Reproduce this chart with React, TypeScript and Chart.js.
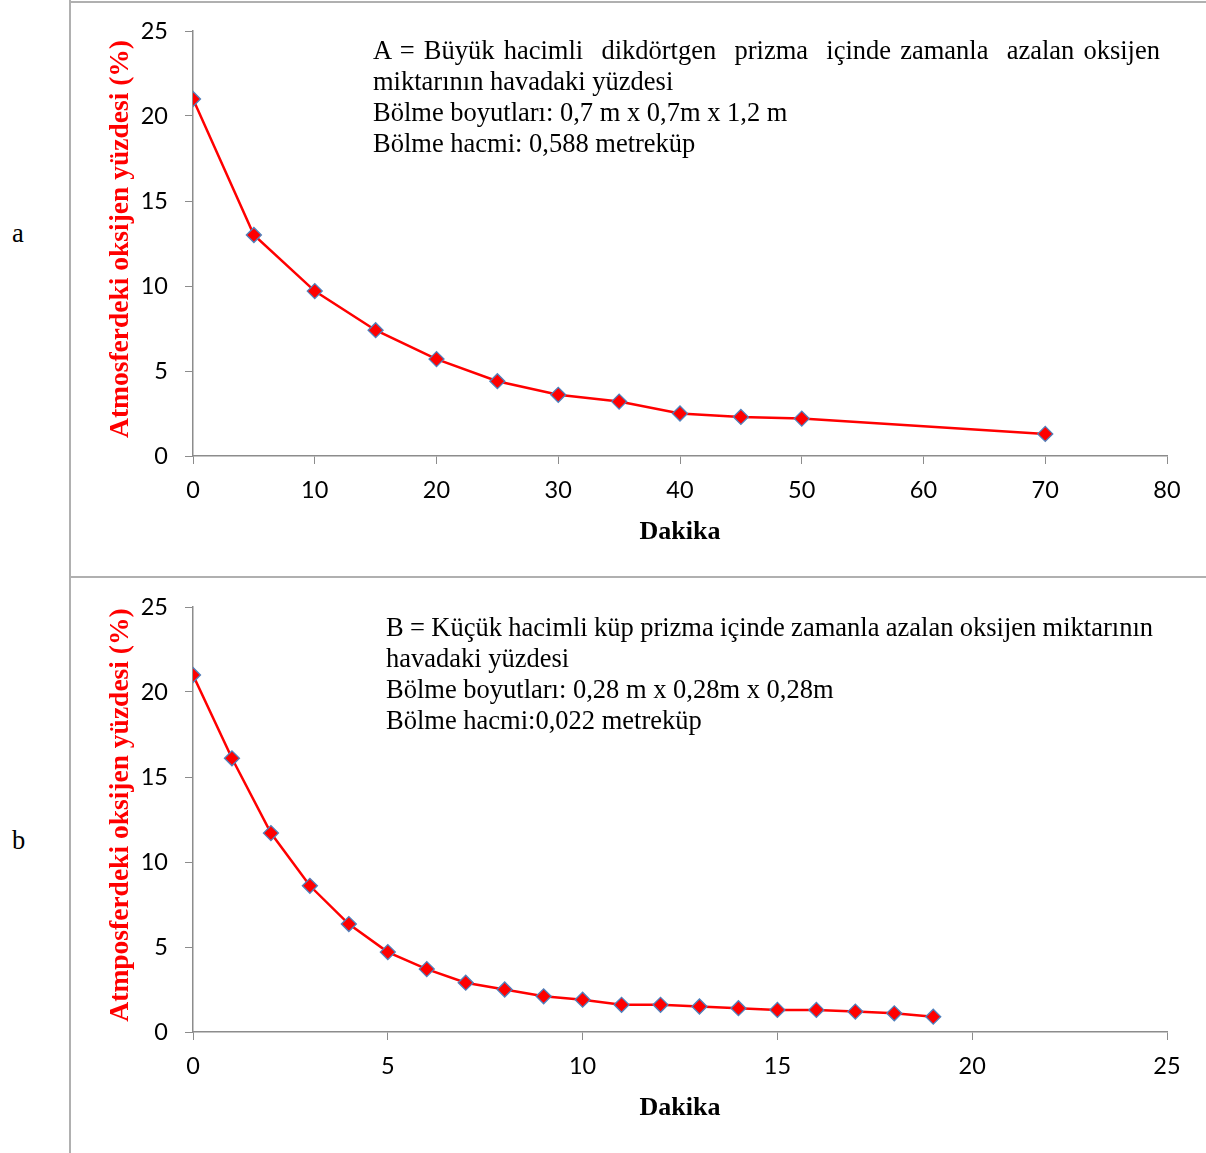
import React, { useEffect, useLayoutEffect, useRef } from "react";
import { Chart, registerables } from "chart.js";

Chart.register(...registerables);

// ---- Data ----
const minutesA = [0, 5, 10, 15, 20, 25, 30, 35, 40, 45, 50, 70];
const oxygenA = [21, 13, 9.7, 7.4, 5.7, 4.4, 3.6, 3.2, 2.5, 2.3, 2.2, 1.3];

const minutesB = [0, 1, 2, 3, 4, 5, 6, 7, 8, 9, 10, 11, 12, 13, 14, 15, 16, 17, 18, 19];
const oxygenB = [21, 16.1, 11.7, 8.6, 6.35, 4.7, 3.7, 2.9, 2.5, 2.1, 1.9, 1.6, 1.6, 1.5, 1.4, 1.3, 1.3, 1.2, 1.1, 0.9];

const xTitle = "Dakika";
const yTitleA = "Atmosferdeki oksijen yüzdesi (%)";
const yTitleB = "Atmposferdeki oksijen yüzdesi (%)";

const noteA = [
  "A = Büyük hacimli  dikdörtgen  prizma  içinde zamanla  azalan oksijen",
  "miktarının havadaki yüzdesi",
  "Bölme boyutları: 0,7 m x 0,7m x 1,2 m",
  "Bölme hacmi: 0,588 metreküp",
];
const noteB = [
  "B = Küçük hacimli küp prizma içinde zamanla azalan oksijen miktarının",
  "havadaki yüzdesi",
  "Bölme boyutları: 0,28 m x 0,28m x 0,28m",
  "Bölme hacmi:0,022 metreküp",
];

const xMaxA = 80;
const xStepA = 10;
const xMaxB = 25;
const xStepB = 5;
const yMax = 25;
const yStep = 5;

const CW = 1135;
const CH = 574;
const AXIS = "#8c8c8c";

const titlePlugin = {
  id: "axisTitlesCustom",
  afterDraw(chart: any, _args: any, opts: any) {
    const ctx = chart.ctx;
    ctx.save();
    ctx.font = 'bold 27.5px "Liberation Serif", "Times New Roman", serif';
    ctx.fillStyle = "#ff0000";
    ctx.textAlign = "center";
    ctx.textBaseline = "middle";
    ctx.translate(50, 236);
    ctx.rotate(-Math.PI / 2);
    ctx.fillText(opts.y, 0, 0);
    ctx.restore();

    ctx.save();
    ctx.font = 'bold 26px "Liberation Serif", "Times New Roman", serif';
    ctx.fillStyle = "#000000";
    ctx.textAlign = "center";
    ctx.textBaseline = "middle";
    ctx.fillText(opts.x, 609, 529);
    ctx.restore();
  },
};

function OxygenChart(props: { xs: number[]; ys: number[]; xMax: number; xStep: number; yTitle: string }) {
  const ref = useRef<HTMLCanvasElement | null>(null);
  useEffect(() => {
    if (!ref.current) return;
    const points = props.xs.map((x, i) => ({ x, y: props.ys[i] }));
    const tickFont = { family: 'Lato, "Open Sans", sans-serif', size: 23.5 };
    const chart = new Chart(ref.current, {
      type: "scatter",
      data: {
        datasets: [
          {
            data: points,
            showLine: true,
            borderColor: "#ff0000",
            borderWidth: 2.5,
            tension: 0,
            pointStyle: "rectRot",
            pointRadius: 7.5,
            pointHoverRadius: 7.5,
            pointBackgroundColor: "#ff0000",
            pointBorderColor: "#4f81bd",
            pointBorderWidth: 1.3,
          },
        ],
      },
      options: {
        responsive: false,
        animation: false,
        events: [],
        layout: { autoPadding: false, padding: { top: 28, right: 39, left: 0, bottom: 0 } },
        plugins: {
          legend: { display: false },
          tooltip: { enabled: false },
          axisTitlesCustom: { x: xTitle, y: props.yTitle },
        } as any,
        scales: {
          x: {
            type: "linear",
            min: 0,
            max: props.xMax,
            ticks: { stepSize: props.xStep, color: "#000", font: tickFont, padding: 12, maxRotation: 0 },
            grid: { drawOnChartArea: false, drawTicks: true, tickLength: 8, color: AXIS },
            border: { color: AXIS, width: 1.5 },
            afterFit: (s: any) => {
              s.height = 121;
            },
          },
          y: {
            type: "linear",
            min: 0,
            max: yMax,
            ticks: { stepSize: yStep, color: "#000", font: tickFont, padding: 17 },
            grid: { drawOnChartArea: false, drawTicks: true, tickLength: 8, color: AXIS },
            border: { color: AXIS, width: 1.5 },
            afterFit: (s: any) => {
              s.width = 122;
              s.paddingTop = 0;
              s.paddingBottom = 0;
            },
          },
        },
      } as any,
      plugins: [titlePlugin],
    });
    return () => chart.destroy();
  }, []);
  return <canvas ref={ref} width={CW} height={CH} style={{ width: CW, height: CH, display: "block" }} />;
}

const noteStyle: React.CSSProperties = {
  position: "absolute",
  fontFamily: '"Liberation Serif", "Times New Roman", serif',
  fontSize: "26.5px",
  lineHeight: "31px",
  color: "#000",
  whiteSpace: "pre",
};

function FittedLine(props: { text: string; width: number }) {
  const ref = useRef<HTMLSpanElement | null>(null);
  useLayoutEffect(() => {
    const el = ref.current;
    if (!el) return;
    el.style.wordSpacing = "0px";
    const w = el.getBoundingClientRect().width;
    const spaces = (props.text.match(/ /g) || []).length;
    if (spaces > 0) {
      el.style.wordSpacing = (props.width - w) / spaces + "px";
    }
  }, []);
  return (
    <div>
      <span ref={ref} style={{ whiteSpace: "pre", display: "inline-block" }}>
        {props.text}
      </span>
    </div>
  );
}

function Note(props: { lines: string[]; left: number; top: number; width: number }) {
  return (
    <div style={{ ...noteStyle, left: props.left, top: props.top }}>
      {props.lines.map((l, i) =>
        i === 0 ? <FittedLine key={i} text={l} width={props.width} /> : <div key={i}>{l}</div>
      )}
    </div>
  );
}

export default function App() {
  useEffect(() => {
    document.body.style.margin = "0";
  }, []);
  const line = "#b0b0b0";
  const labelStyle: React.CSSProperties = {
    position: "absolute",
    left: 12,
    fontFamily: '"Liberation Serif", "Times New Roman", serif',
    fontSize: "26.5px",
    lineHeight: "30px",
    color: "#000",
  };
  return (
    <div style={{ position: "relative", width: 1206, height: 1153, background: "#fff", overflow: "hidden" }}>
      <div style={{ position: "absolute", left: 69, top: 0, width: 2, height: 1153, background: line }} />
      <div style={{ position: "absolute", left: 69, top: 1, width: 1137, height: 2, background: line }} />
      <div style={{ position: "absolute", left: 69, top: 576, width: 1137, height: 2, background: line }} />
      <div style={{ ...labelStyle, top: 218 }}>a</div>
      <div style={{ ...labelStyle, top: 825 }}>b</div>
      <div style={{ position: "absolute", left: 71, top: 3 }}>
        <OxygenChart xs={minutesA} ys={oxygenA} xMax={xMaxA} xStep={xStepA} yTitle={yTitleA} />
      </div>
      <div style={{ position: "absolute", left: 71, top: 579 }}>
        <OxygenChart xs={minutesB} ys={oxygenB} xMax={xMaxB} xStep={xStepB} yTitle={yTitleB} />
      </div>
      <Note lines={noteA} left={373} top={35} width={787} />
      <Note lines={noteB} left={386} top={612} width={767} />
    </div>
  );
}
